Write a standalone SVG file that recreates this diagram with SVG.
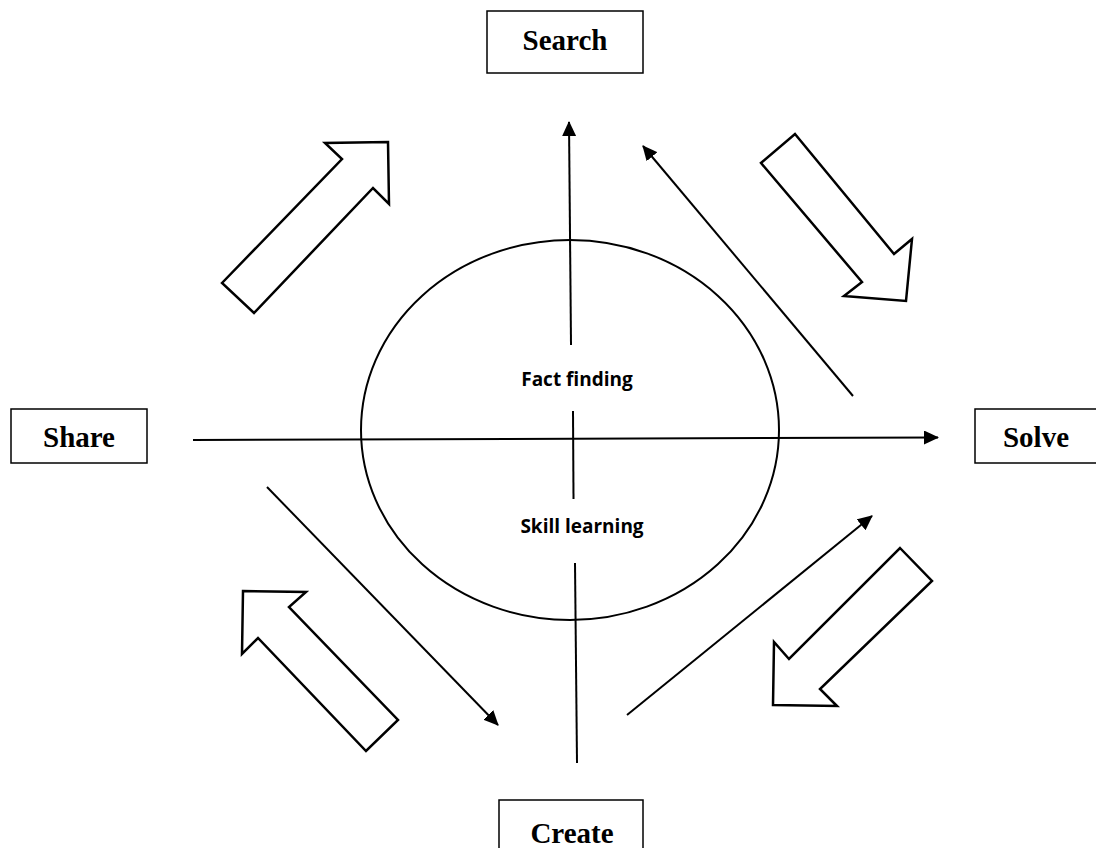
<svg xmlns="http://www.w3.org/2000/svg" width="1096" height="848" viewBox="0 0 1096 848">
  <defs>
    <style>
      .box { fill: #ffffff; stroke: #000000; stroke-width: 1.5; }
      .label { font-family: "Liberation Serif", "Times New Roman", serif; font-weight: bold; font-size: 29px; fill: #000000; text-anchor: middle; }
      .inner { font-family: "Open Sans", "Liberation Sans", sans-serif; font-weight: bold; font-size: 19px; fill: #000000; text-anchor: middle; }
      .line { fill: none; stroke: #000000; stroke-width: 2; }
      .block { fill: #ffffff; stroke: #000000; stroke-width: 2.5; stroke-linejoin: miter; }
      .hub { fill: none; stroke: #000000; stroke-width: 2; }
    </style>
    <marker id="head" markerWidth="16" markerHeight="14" refX="14" refY="7" orient="auto" markerUnits="userSpaceOnUse">
      <path d="M0,0 L15,7 L0,14 z" fill="#000000"/>
    </marker>
  </defs>

  <rect width="1096" height="848" fill="#ffffff"/>

  <!-- central cycle ellipse -->
  <g id="hub">
    <ellipse class="hub" cx="570" cy="430" rx="209" ry="190"/>
    <text class="inner" x="577" y="386">Fact finding</text>
    <text class="inner" x="582" y="533">Skill learning</text>
  </g>

  <!-- stage boxes -->
  <g id="search">
    <rect class="box" x="487" y="11" width="156" height="62"/>
    <text class="label" x="565" y="50">Search</text>
  </g>
  <g id="share">
    <rect class="box" x="11" y="409" width="136" height="54"/>
    <text class="label" x="79" y="447">Share</text>
  </g>
  <g id="solve">
    <rect class="box" x="975" y="409" width="130" height="54"/>
    <text class="label" x="1036" y="447">Solve</text>
  </g>
  <g id="create">
    <rect class="box" x="499" y="800" width="144" height="60"/>
    <text class="label" x="572" y="843">Create</text>
  </g>

  <!-- hollow block arrows showing the cycle direction -->
  <g id="block-arrows">
    <polygon id="arrow-share-search" class="block" points="222,283 342,159 325,143 388,142 389,204 373,188 254,313"/>
    <polygon id="arrow-search-solve" class="block" points="795,134 894,254 912,239 906,301 844,296 862,282 761,163"/>
    <polygon id="arrow-solve-create" class="block" points="900,548 932,581 820,689 837,706 773,705 774,642 789,659"/>
    <polygon id="arrow-create-share" class="block" points="243,591 306,592 289,607 398,720 366,751 258,638 242,654"/>
  </g>

  <!-- connectors -->
  <g id="connectors">
    <line class="line" x1="571" y1="345" x2="569" y2="122" marker-end="url(#head)"/>
    <line class="line" x1="573" y1="411" x2="573.5" y2="499"/>
    <line class="line" x1="575" y1="563" x2="577" y2="763"/>
    <line class="line" x1="193" y1="440" x2="938" y2="437.5" marker-end="url(#head)"/>
    <line class="line" x1="853" y1="396" x2="643" y2="146" marker-end="url(#head)"/>
    <line class="line" x1="267" y1="487" x2="498" y2="725" marker-end="url(#head)"/>
    <line class="line" x1="627" y1="715" x2="872" y2="516" marker-end="url(#head)"/>
  </g>
</svg>
